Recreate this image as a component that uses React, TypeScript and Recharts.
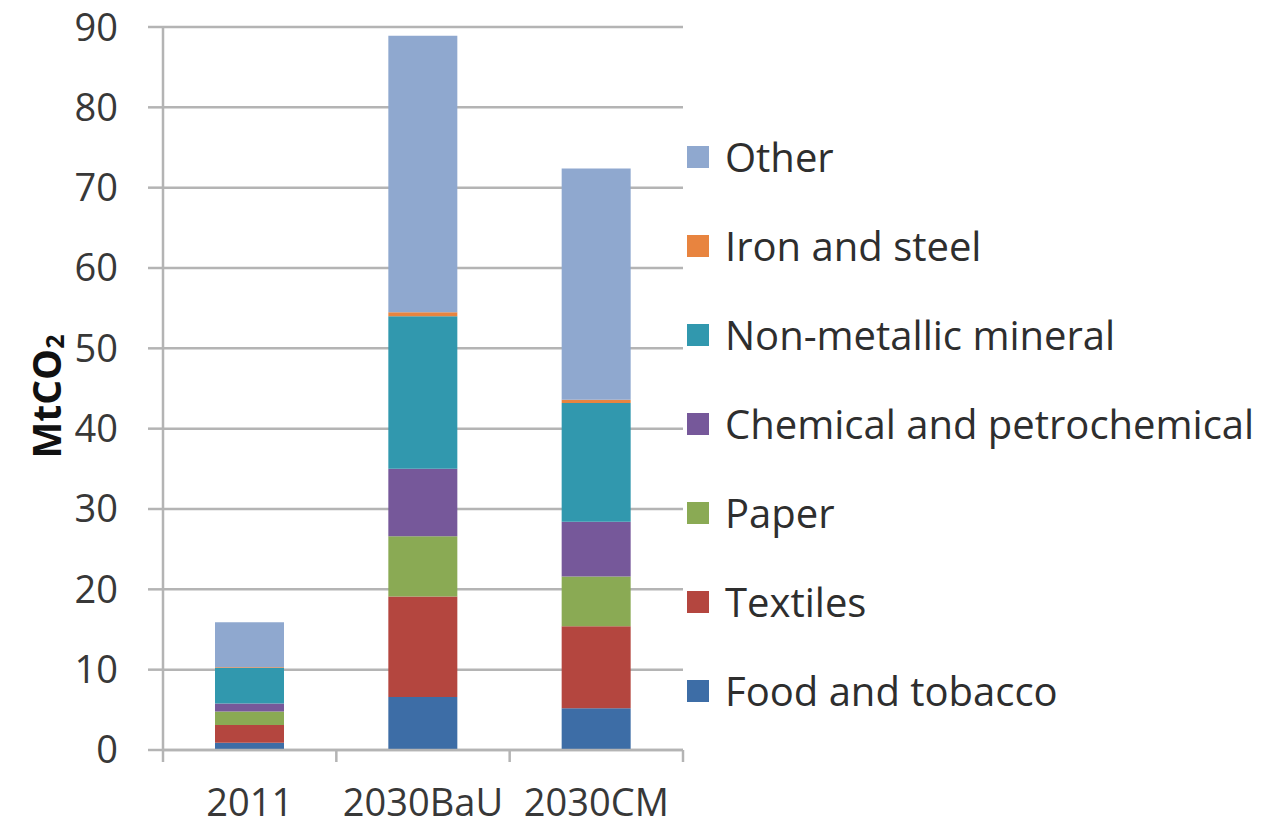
import { Bar, BarChart, CartesianGrid, XAxis, YAxis } from 'recharts';

// Industrial CO2 emissions by sub-sector, MtCO2, stacked per scenario.
const categories = ['2011', '2030BaU', '2030CM'];

const foodTobacco = [0.9, 6.6, 5.2];
const textiles = [2.2, 12.5, 10.2];
const paper = [1.7, 7.5, 6.2];
const chemical = [1.0, 8.4, 6.8];
const nonMetallic = [4.4, 19.0, 14.8];
const ironSteel = [0.1, 0.5, 0.4];
const other = [5.6, 34.4, 28.8];

const yTicks = [0, 10, 20, 30, 40, 50, 60, 70, 80, 90];

// stacking order, bottom to top
const series = [
  { key: 'food', name: 'Food and tobacco', values: foodTobacco, color: '#3D6DA6' },
  { key: 'textiles', name: 'Textiles', values: textiles, color: '#B4463F' },
  { key: 'paper', name: 'Paper', values: paper, color: '#8AAA54' },
  { key: 'chemical', name: 'Chemical and petrochemical', values: chemical, color: '#76589A' },
  { key: 'nonMetallic', name: 'Non-metallic mineral', values: nonMetallic, color: '#3198AE' },
  { key: 'ironSteel', name: 'Iron and steel', values: ironSteel, color: '#E8843F' },
  { key: 'other', name: 'Other', values: other, color: '#8FA8CF' },
];

const data = categories.map((cat, i) => {
  const row: Record<string, string | number> = { cat };
  series.forEach((s) => { row[s.key] = s.values[i]; });
  return row;
});

const FONT = '"Open Sans", "Noto Sans", sans-serif';
const TEXT = '#383838';
const LINE = '#b4b4b4';

// category label centred in its band, tick marks on the band edges (Excel style)
function CategoryTick(props: any) {
  const { x, y, payload, index, visibleTicksCount } = props;
  const half = payload.offset ?? 0;
  return (
    <g>
      <line x1={x - half} x2={x - half} y1={y} y2={y + 12} stroke={LINE} strokeWidth={2.5} />
      {index === visibleTicksCount - 1 && (
        <line x1={x + half} x2={x + half} y1={y} y2={y + 12} stroke={LINE} strokeWidth={2.5} />
      )}
      <text x={x} y={y + 66} textAnchor="middle" fill={TEXT} fontSize={38} fontFamily={FONT}>
        {payload.value}
      </text>
    </g>
  );
}

function UnitLabel(props: any) {
  const vb = props.viewBox ?? { x: 0, y: 0, width: 0, height: 0 };
  const cx = vb.x + 45;
  const cy = vb.y + vb.height / 2 + 8;
  return (
    <text x={cx} y={cy} transform={`rotate(-90 ${cx} ${cy})`} textAnchor="middle" dominantBaseline="central"
      fill="#111" fontSize={39} fontWeight={700} fontFamily={FONT}>
      MtCO<tspan fontSize={25} dy={9}>2</tspan>
    </text>
  );
}

export default function App() {
  const legendItems = [...series].reverse();
  return (
    <div style={{ position: 'absolute', left: 0, top: 0, width: 1263, height: 828, background: '#fff' }}>
      <BarChart width={1263} height={828} data={data} barCategoryGap="30%"
        margin={{ top: 27, right: 580, bottom: 0, left: 0 }}>
        <CartesianGrid vertical={false} stroke={LINE} strokeWidth={2.5} />
        <XAxis dataKey="cat" height={78} tickSize={0} tickMargin={0} tickLine={false}
          axisLine={{ stroke: LINE, strokeWidth: 2.5 }} tick={<CategoryTick />} interval={0} />
        <YAxis width={163} domain={[0, 90]} ticks={yTicks} interval={0} tickSize={15} tickMargin={30}
          axisLine={{ stroke: LINE, strokeWidth: 2.5 }} tickLine={{ stroke: LINE, strokeWidth: 2.5 }}
          tick={{ fill: TEXT, fontSize: 38, fontFamily: FONT }} label={<UnitLabel />} />
        {series.map((s) => (
          <Bar key={s.key} dataKey={s.key} name={s.name} stackId="total" fill={s.color} isAnimationActive={false} />
        ))}
      </BarChart>
      <div style={{ position: 'absolute', left: 687, top: 112, fontFamily: FONT, fontSize: 40, color: '#2e2e2e' }}>
        {legendItems.map((s) => (
          <div key={s.key} style={{ display: 'flex', alignItems: 'center', height: 89, whiteSpace: 'nowrap' }}>
            <span style={{ width: 22, height: 22, background: s.color, display: 'inline-block', marginRight: 16 }} />
            {s.name}
          </div>
        ))}
      </div>
    </div>
  );
}
